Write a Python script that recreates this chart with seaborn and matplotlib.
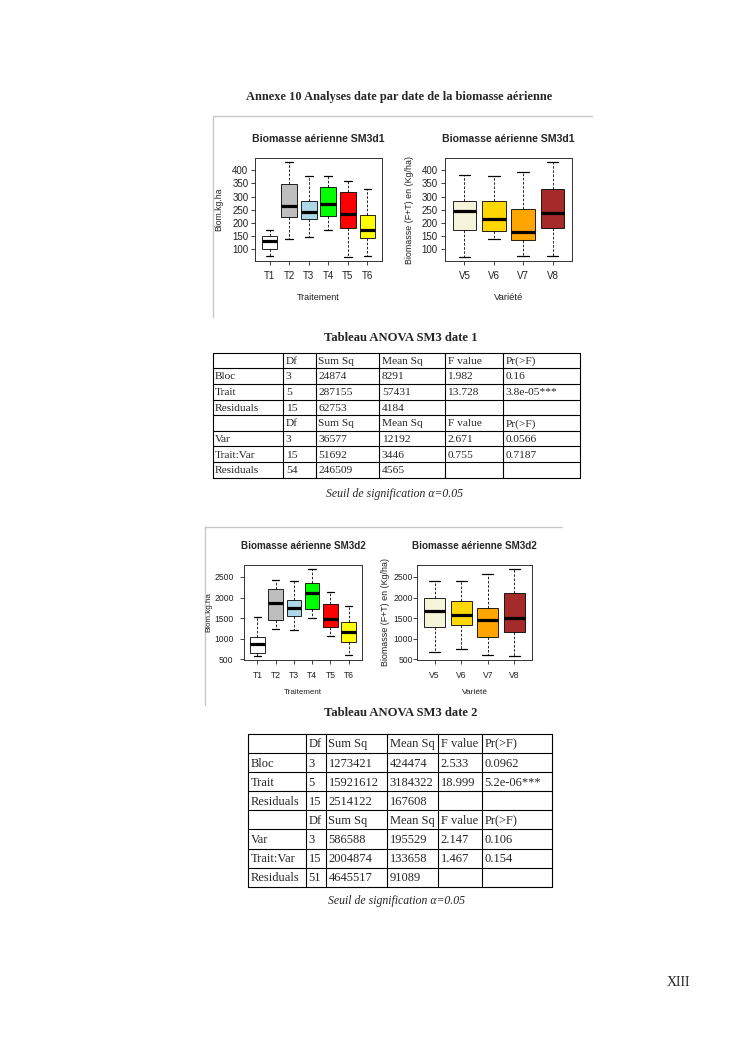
import numpy as np
import pandas as pd
import matplotlib
matplotlib.use('Agg')
import matplotlib.pyplot as plt
import seaborn as sns

sns.set_style('ticks')
plt.rcParams['font.family'] = ['Liberation Sans', 'DejaVu Sans']

W, H = 745, 1053
SERIF = ['Liberation Serif', 'DejaVu Serif']

# ---- donnees des boites : min, Q1, mediane, Q3, max ----
trait_labels = ['T1', 'T2', 'T3', 'T4', 'T5', 'T6']
trait_colors = ['white', '#bebebe', '#add8e6', '#00ff00', '#ff0000', '#ffff00']
var_labels = ['V5', 'V6', 'V7', 'V8']
var_colors = ['#f5f5dc', '#ffd700', '#ffa500', '#a52a2a']

d1_trait = [[75, 101, 131, 149, 175],
            [140, 222, 263, 349, 429],
            [146, 216, 242, 284, 376],
            [175, 227, 270, 336, 378],
            [72, 181, 235, 317, 358],
            [75, 143, 173, 230, 330]]
d1_var = [[72, 175, 244, 284, 380],
          [140, 170, 216, 284, 377],
          [75, 136, 164, 253, 394],
          [75, 181, 237, 328, 429]]
d2_trait = [[581, 646, 866, 1053, 1524],
            [1232, 1459, 1874, 2199, 2435],
            [1207, 1549, 1752, 1931, 2394],
            [1492, 1719, 2102, 2354, 2687],
            [1061, 1289, 1476, 1833, 2142],
            [598, 915, 1175, 1419, 1793]]
d2_var = [[671, 1280, 1671, 1980, 2402],
          [744, 1329, 1581, 1915, 2402],
          [598, 1037, 1459, 1736, 2573],
          [573, 1159, 1492, 2110, 2687]]

# ---- tableaux ANOVA ----
entete = ['', 'Df', 'Sum Sq', 'Mean Sq', 'F value', 'Pr(>F)']
anova1_bloc = [['Bloc', '3', '24874', '8291', '1.982', '0.16'],
               ['Trait', '5', '287155', '57431', '13.728', '3.8e-05***'],
               ['Residuals', '15', '62753', '4184', '', '']]
anova1_var = [['Var', '3', '36577', '12192', '2.671', '0.0566'],
              ['Trait:Var', '15', '51692', '3446', '0.755', '0.7187'],
              ['Residuals', '54', '246509', '4565', '', '']]
anova2_bloc = [['Bloc', '3', '1273421', '424474', '2.533', '0.0962'],
               ['Trait', '5', '15921612', '3184322', '18.999', '5.2e-06***'],
               ['Residuals', '15', '2514122', '167608', '', '']]
anova2_var = [['Var', '3', '586588', '195529', '2.147', '0.106'],
              ['Trait:Var', '15', '2004874', '133658', '1.467', '0.154'],
              ['Residuals', '51', '4645517', '91089', '', '']]

fig = plt.figure(figsize=(W / 100, H / 100), dpi=100)
ov = fig.add_axes([0, 0, 1, 1])
ov.set_xlim(0, W)
ov.set_ylim(H, 0)
ov.axis('off')


def px(x0, y0, x1, y1):
    return [x0 / W, 1 - y1 / H, (x1 - x0) / W, (y1 - y0) / H]


def boite(rect, labels, colors, stats, ylim, yticks, title, ylabel, xlabel,
          ylab_x, xlab_y, tfs, fs, lfs, ylfs, ypad, xpad):
    ax = fig.add_axes(px(*rect))
    df = pd.DataFrame({'grp': np.repeat(labels, 5), 'val': np.concatenate(stats)})
    sns.boxplot(data=df, x='grp', y='val', hue='grp', order=labels, hue_order=labels,
                palette=colors, saturation=1, legend=False, width=0.8, whis=(0, 100),
                linecolor='black', linewidth=0.6,
                medianprops=dict(linewidth=2.3, color='black'),
                whiskerprops=dict(linestyle=(0, (3, 2)), linewidth=0.6),
                capprops=dict(linewidth=0.9), ax=ax)
    n = len(labels)
    ext = 0.04 * n
    ax.set_xlim(-0.5 - ext, n - 0.5 + ext)
    ax.set_ylim(*ylim)
    ax.set_yticks(yticks)
    for s in ax.spines.values():
        s.set_linewidth(0.7)
        s.set_color('#333333')
    ax.tick_params(axis='y', labelsize=fs, length=3, width=0.6, pad=ypad, colors='#222222')
    ax.tick_params(axis='x', labelsize=fs, length=3, width=0.6, pad=xpad, colors='#222222')
    ax.set_title(title, fontsize=tfs, fontweight='bold', pad=0,
                 y=1 + 19 / (rect[3] - rect[1]), va='center')
    ax.set_ylabel(ylabel, fontsize=ylfs, va='center', color='#222222')
    ax.set_xlabel(xlabel, fontsize=lfs, va='center', color='#222222')
    ax.yaxis.set_label_coords(ylab_x, (rect[1] + rect[3]) / 2, transform=ov.transData)
    ax.xaxis.set_label_coords((rect[0] + rect[2]) / 2, xlab_y, transform=ov.transData)
    return ax


def tableau(cols, y0, y1, bloc, var, fs):
    lignes = [entete] + bloc + [entete] + var
    n = len(lignes)
    h = (y1 - y0) / n
    for i in range(n + 1):
        ov.plot([cols[0], cols[-1]], [y0 + i * h] * 2, color='black', lw=0.8)
    for c in cols:
        ov.plot([c, c], [y0, y1], color='black', lw=0.8)
    for i, ligne in enumerate(lignes):
        for j, txt in enumerate(ligne):
            ov.text(cols[j] + 2.5, y0 + (i + 0.55) * h, txt, fontsize=fs,
                    family=SERIF, va='center', ha='left')


# ---- texte de la page ----
ov.text(399, 97, 'Annexe 10 Analyses date par date de la biomasse aérienne',
        fontsize=8.9, fontweight='bold', family=SERIF, ha='center', va='center')
ov.text(401, 338, 'Tableau ANOVA SM3 date 1', fontsize=9.1, fontweight='bold',
        family=SERIF, ha='center', va='center')
ov.text(395, 494, 'Seuil de signification α=0.05', fontsize=8.5, style='italic',
        family=SERIF, ha='center', va='center')
ov.text(401, 713, 'Tableau ANOVA SM3 date 2', fontsize=9.1, fontweight='bold',
        family=SERIF, ha='center', va='center')
ov.text(397, 901, 'Seuil de signification α=0.05', fontsize=8.5, style='italic',
        family=SERIF, ha='center', va='center')
ov.text(678, 983, 'XIII', fontsize=10, family=SERIF, ha='center', va='center')

# cadres gris des images
ov.plot([213, 592], [116, 116], color='#c8c8c8', lw=1)
ov.plot([213, 213], [116, 317], color='#c8c8c8', lw=1)
ov.plot([205, 562], [527, 527], color='#c8c8c8', lw=1)
ov.plot([205, 205], [527, 705], color='#c8c8c8', lw=1)

# ---- graphiques ----
boite((255, 158, 382, 261), trait_labels, trait_colors, d1_trait, (56, 446),
      range(100, 401, 50), 'Biomasse aérienne SM3d1', 'Biom.kg.ha', 'Traitement',
      219, 297, 7.6, 7, 6.5, 6.2, 1.8, 4.3)
boite((445, 158, 572, 261), var_labels, var_colors, d1_var, (56, 446),
      range(100, 401, 50), 'Biomasse aérienne SM3d1', 'Biomasse (F+T) en (Kg/ha)',
      'Variété', 410, 297, 7.6, 7, 6.8, 6.4, 2.3, 4.3)
boite((244, 565, 362, 660), trait_labels, trait_colors, d2_trait, (485, 2790),
      range(500, 2501, 500), 'Biomasse aérienne SM3d2', 'Biom.kg.ha', 'Traitement',
      209, 693, 7.1, 6.2, 5.8, 5.8, 4.5, 5.0)
boite((417, 565, 532, 660), var_labels, var_colors, d2_var, (485, 2790),
      range(500, 2501, 500), 'Biomasse aérienne SM3d2', 'Biomasse (F+T) en (Kg/ha)',
      'Variété', 385, 693, 7.1, 6.2, 6.0, 6.4, 0.0, 5.0)

# ---- tableaux ----
tableau([212.7, 283.3, 316, 379.3, 445, 503.3, 580], 352.7, 477.7,
        anova1_bloc, anova1_var, 8.2)
tableau([248.3, 306, 326, 387.3, 438.3, 481.7, 551.7], 734, 886.7,
        anova2_bloc, anova2_var, 9)

fig.savefig('out.png', dpi=100)
